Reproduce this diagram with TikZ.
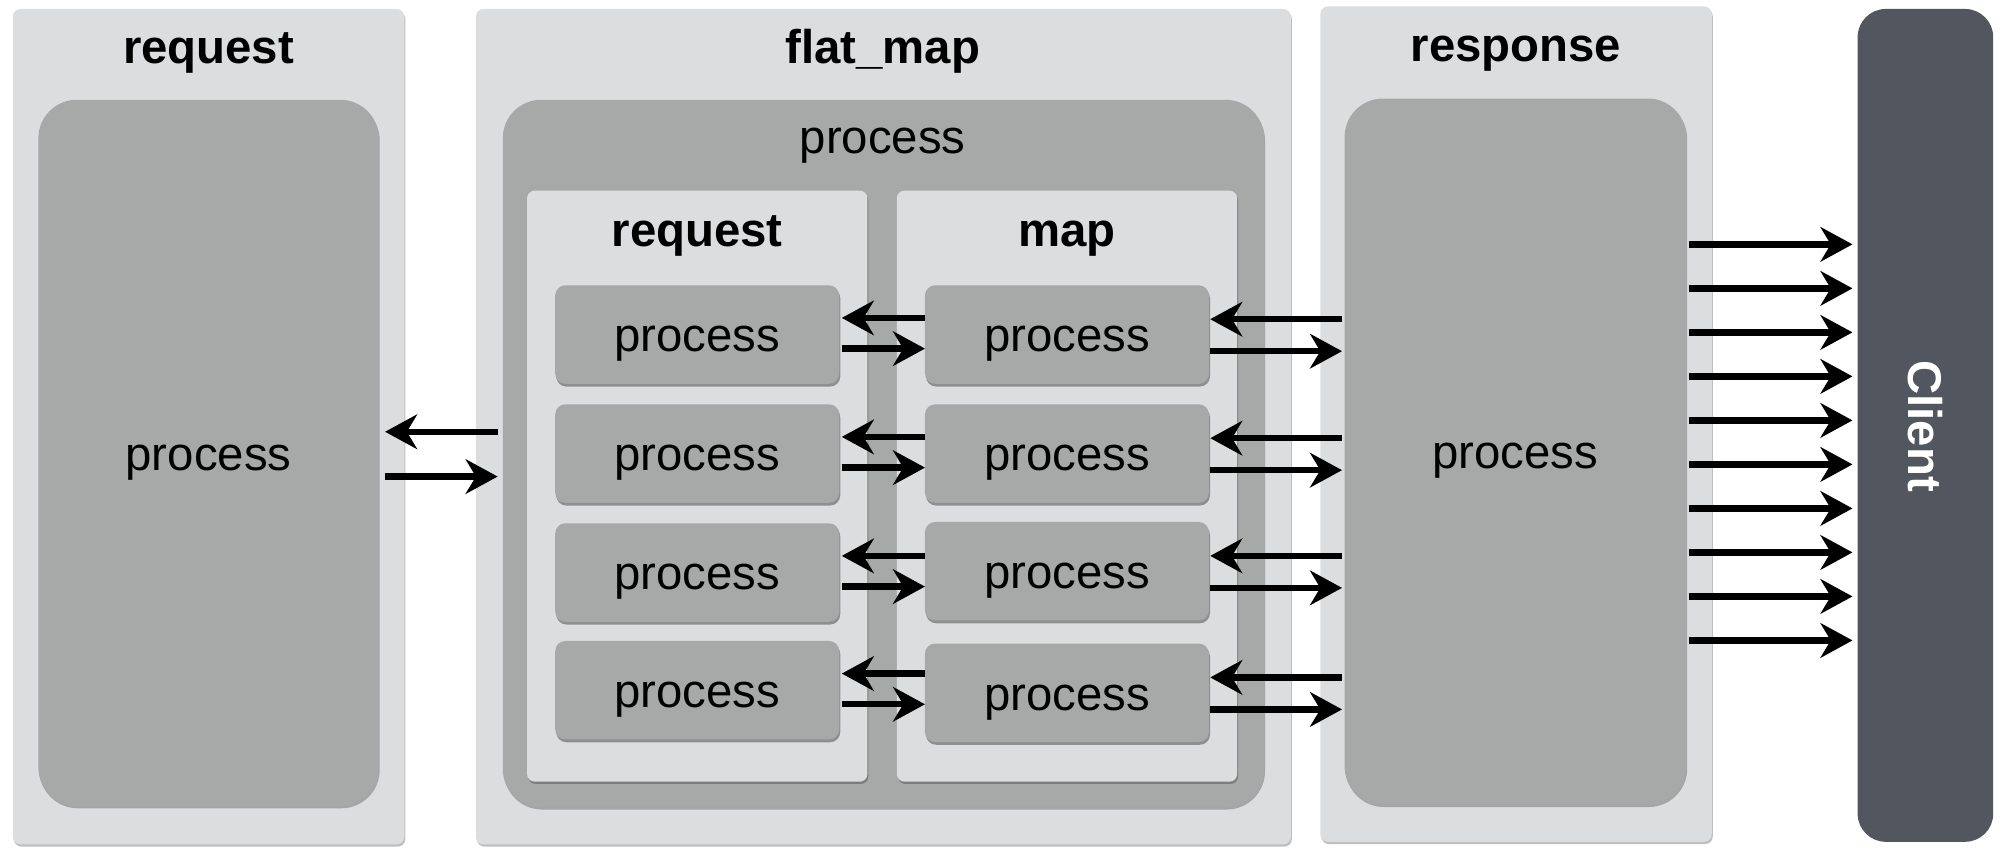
\documentclass[tikz,border=0pt]{standalone}
\usepackage{fontspec}
\setmainfont{Liberation Sans}
\newcommand\lightfont{\mdseries}
\usetikzlibrary{arrows.meta,shadows,calc}
\definecolor{panelgray}{RGB}{220,221,223}
\definecolor{boxgray}{RGB}{167,168,168}
\definecolor{clientgray}{RGB}{82,86,94}
\tikzset{
  shad/.style={drop shadow={shadow xshift=0.8pt, shadow yshift=-1.8pt, opacity=0.25, fill=black}},
  panel/.style={shad, fill=panelgray, rounded corners=6pt, anchor=north west, inner sep=0pt, outer sep=0pt},
  bigproc/.style={shad, fill=boxgray, rounded corners=30pt, anchor=north west, inner sep=0pt, outer sep=0pt, text height=27pt, text depth=0pt, font=\lightfont\fontsize{37}{40}\selectfont},
  smallproc/.style={drop shadow={shadow xshift=0.8pt, shadow yshift=-2.2pt, opacity=0.35, fill=black}, fill=boxgray, rounded corners=8pt, anchor=north west, inner sep=0pt, outer sep=0pt, minimum width=222pt, minimum height=77pt, text height=27pt, text depth=0pt, font=\lightfont\fontsize{37}{40}\selectfont},
  clientbox/.style={fill=clientgray, rounded corners=22pt, anchor=north west, inner sep=0pt, outer sep=0pt},
  title/.style={font=\bfseries\fontsize{37}{40}\selectfont, inner sep=0pt, anchor=base},
  plabel/.style={font=\lightfont\fontsize{37}{40}\selectfont, inner sep=0pt, anchor=base},
  arr/.style={line width=5pt, -{Stealth[length=25pt, width=27pt, inset=8pt]}}
}
\begin{document}
\begin{tikzpicture}[x=1pt, y=-1pt]
\useasboundingbox (0,0) rectangle (1568,670);
% left request
\node[panel, minimum width=306pt, minimum height=653pt] (reqP) at (10,7) {};
\node[title] (reqT) at (163,49.5) {request};
\node[bigproc, minimum width=266pt, minimum height=552pt] (reqProc) at (30,78) {process};
% flat_map
\node[panel, minimum width=637pt, minimum height=653pt] (fmP) at (372,7) {};
\node[title] (fmT) at (690,49.5) {flat\_map};
\node[bigproc, minimum width=595pt, minimum height=553pt] (fmProc) at (393,78) {};
\node[plabel] (fmL) at (690,120) {process};
\node[panel, minimum width=266pt, minimum height=462pt] (inReq) at (412,149) {};
\node[title] (inReqT) at (545,193) {request};
\node[panel, minimum width=266pt, minimum height=462pt] (inMap) at (701,149) {};
\node[title] (inMapT) at (834,193) {map};
\node[smallproc] (L1) at (434,223) {process};
\node[smallproc] (L2) at (434,316) {process};
\node[smallproc] (L3) at (434,409) {process};
\node[smallproc] (L4) at (434,501) {process};
\node[smallproc] (R1) at (723,223) {process};
\node[smallproc] (R2) at (723,316) {process};
\node[smallproc] (R3) at (723,408) {process};
\node[smallproc] (R4) at (723,503) {process};
% response
\node[panel, minimum width=306pt, minimum height=653pt] (respP) at (1032,5) {};
\node[title] (respT) at (1185,48) {response};
\node[bigproc, minimum width=267pt, minimum height=552pt] (respProc) at (1051,77) {process};
% client
\node[clientbox, minimum width=106pt, minimum height=651pt] (client) at (1452,7) {};
\node[font=\bfseries\fontsize{37}{40}\selectfont, inner sep=0pt, text=white, rotate=-90] (clientT) at (1505,333) {Client};
% request <-> flat_map
\coordinate (a1) at ($(fmProc.west)+(0,-17)$);
\coordinate (a2) at ($(fmProc.west)+(0,18)$);
\draw[arr, shorten <=4pt, shorten >=5pt] (a1) -- (a1 -| reqProc.east);
\draw[arr, shorten <=5pt, shorten >=4pt] (a2 -| reqProc.east) -- (a2);
% inner rows
\foreach \k in {1,2,3,4}{
  \coordinate (u\k) at ($(L\k.east)+(0,-13)$);
  \coordinate (d\k) at ($(L\k.east)+(0,11)$);
  \draw[arr, shorten >=2pt] (u\k -| R\k.west) -- (u\k);
  \draw[arr, shorten <=2pt] (d\k) -- (d\k -| R\k.west);
  \coordinate (ou\k) at ($(R\k.east)+(0,-12)$);
  \coordinate (od\k) at ($(R\k.east)+(0,13)$);
  \draw[arr, shorten <=2pt, shorten >=1pt] (ou\k -| respProc.west) -- (ou\k);
  \draw[arr, shorten <=1pt, shorten >=2pt] (od\k) -- (od\k -| respProc.west);
}
% client arrows
\foreach \i in {0,...,9}{
  \coordinate (c\i) at ($(respProc.east)+(2,-162+34.4*\i)$);
  \draw[arr, shorten >=4pt] (c\i) -- (c\i -| client.west);
}
\end{tikzpicture}
\end{document}
